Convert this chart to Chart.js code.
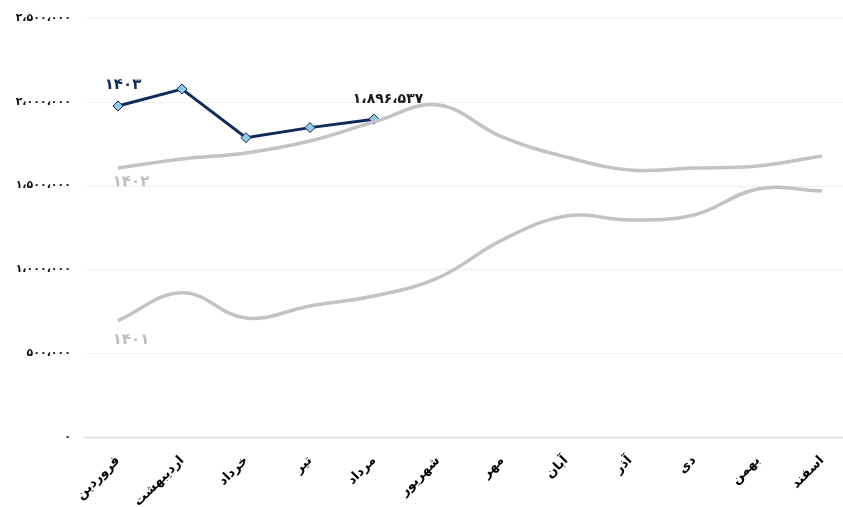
<!DOCTYPE html>
<html lang="fa">
<head>
<meta charset="utf-8">
<script src="https://cdn.jsdelivr.net/npm/chart.js@4/dist/chart.umd.min.js"></script>
<style>
  html, body { margin: 0; padding: 0; background: #fff; }
  #wrap { width: 843px; height: 507px; position: relative; }
</style>
</head>
<body>
<div id="wrap"><canvas id="salesChart"></canvas></div>
<script>
// months of the Persian year
const months = ["فروردین", "اردیبهشت", "خرداد", "تیر", "مرداد", "شهریور", "مهر", "آبان", "آذر", "دی", "بهمن", "اسفند"];

// yearly series
const values1401 = [694000, 861000, 710000, 782000, 841000, 949000, 1175000, 1319000, 1295000, 1325000, 1480000, 1468000];
const values1402 = [1605000, 1659000, 1695000, 1766000, 1880000, 1981000, 1790000, 1671000, 1593000, 1605000, 1617000, 1677000];
const values1403 = [1975000, 2076000, 1786000, 1846000, 1896537];

const seriesNames = ["۱۴۰۱", "۱۴۰۲", "۱۴۰۳"];
const yTicks = [0, 500000, 1000000, 1500000, 2000000, 2500000];

const FONT = "'DejaVu Sans', 'Noto Sans', sans-serif";

/**
 * Formats a number with Persian digits and Arabic thousands separator
 */
const toFa = (n) =>
  String(n)
    .replace(/\B(?=(\d{3})+(?!\d))/g, "،")
    .replace(/\d/g, (d) => "۰۱۲۳۴۵۶۷۸۹"[d]);

// horizontal gridlines that run past the plot area, as in the original
const gridPlugin = {
  id: "wideGrid",
  beforeDatasetsDraw(chart) {
    const { ctx } = chart;
    const y = chart.scales.y;
    ctx.save();
    yTicks.forEach((v) => {
      const py = Math.round(y.getPixelForValue(v)) + 0.5;
      ctx.strokeStyle = v === 0 ? "#dedede" : "#f0f0f0";
      ctx.lineWidth = v === 0 ? 1.5 : 1;
      ctx.beginPath();
      ctx.moveTo(v === 0 ? 84 : 87, py);
      ctx.lineTo(843, py);
      ctx.stroke();
    });
    ctx.restore();
  },
};

// series names and last value label
const labelPlugin = {
  id: "seriesLabels",
  afterDatasetsDraw(chart) {
    const { ctx } = chart;
    const pt = (di, i) => chart.getDatasetMeta(di).data[i];
    ctx.save();
    ctx.textAlign = "center";
    ctx.textBaseline = "middle";

    const p1403 = pt(2, 0);
    ctx.font = "bold 15px " + FONT;
    ctx.fillStyle = "#0f2b5b";
    ctx.fillText(seriesNames[2], p1403.x + 5, p1403.y - 21);

    ctx.fillStyle = "#bdbdbd";
    const p1402 = pt(1, 0);
    ctx.fillText(seriesNames[1], p1402.x + 13, p1402.y + 14);
    const p1401 = pt(0, 0);
    ctx.fillText(seriesNames[0], p1401.x + 13, p1401.y + 19);

    const last = values1403.length - 1;
    const pl = pt(2, last);
    ctx.font = "bold 14px " + FONT;
    ctx.fillStyle = "#1a1a1a";
    ctx.fillText(toFa(values1403[last]), pl.x + 14, pl.y - 20);
    ctx.restore();
  },
};

const ctx = document.getElementById("salesChart").getContext("2d");

new Chart(ctx, {
  type: "line",
  data: {
    labels: months,
    datasets: [
      {
        label: seriesNames[0],
        data: values1401,
        borderColor: "#c3c3c3",
        borderWidth: 3.5,
        tension: 0.4,
        pointRadius: 0,
      },
      {
        label: seriesNames[1],
        data: values1402,
        borderColor: "#c3c3c3",
        borderWidth: 3.5,
        tension: 0.4,
        pointRadius: 0,
      },
      {
        label: seriesNames[2],
        data: values1403,
        borderColor: "#0f2b5b",
        borderWidth: 3,
        tension: 0,
        pointStyle: "rectRot",
        pointRadius: 5,
        pointBackgroundColor: "#8fcbe6",
        pointBorderColor: "#0f2b5b",
        pointBorderWidth: 1,
      },
    ],
  },
  options: {
    responsive: true,
    maintainAspectRatio: false,
    animation: false,
    layout: {
      padding: { top: 18, right: 21, bottom: 0, left: 0 },
    },
    scales: {
      x: {
        offset: false,
        grid: { display: false, drawTicks: false },
        border: { display: false },
        afterFit: (scale) => {
          scale.height = 70;
          scale.paddingLeft = 0;
          scale.paddingRight = 0;
        },
        ticks: {
          autoSkip: false,
          minRotation: 45,
          maxRotation: 45,
          padding: 16,
          color: "#000",
          font: { family: FONT, size: 13, weight: "bold" },
        },
      },
      y: {
        min: 0,
        max: 2500000,
        grid: { display: false, drawTicks: false },
        border: { display: false },
        afterFit: (scale) => {
          scale.width = 118;
          scale.paddingTop = 6;
          scale.paddingBottom = 6;
        },
        afterBuildTicks: (scale) => {
          scale.ticks = yTicks.map((v) => ({ value: v }));
        },
        ticks: {
          padding: 47,
          color: "#111",
          font: { family: FONT, size: 11, weight: "bold" },
          callback: (v) => toFa(v),
        },
      },
    },
    plugins: {
      legend: { display: false },
      tooltip: { enabled: false },
    },
  },
  plugins: [gridPlugin, labelPlugin],
});
</script>
</body>
</html>
